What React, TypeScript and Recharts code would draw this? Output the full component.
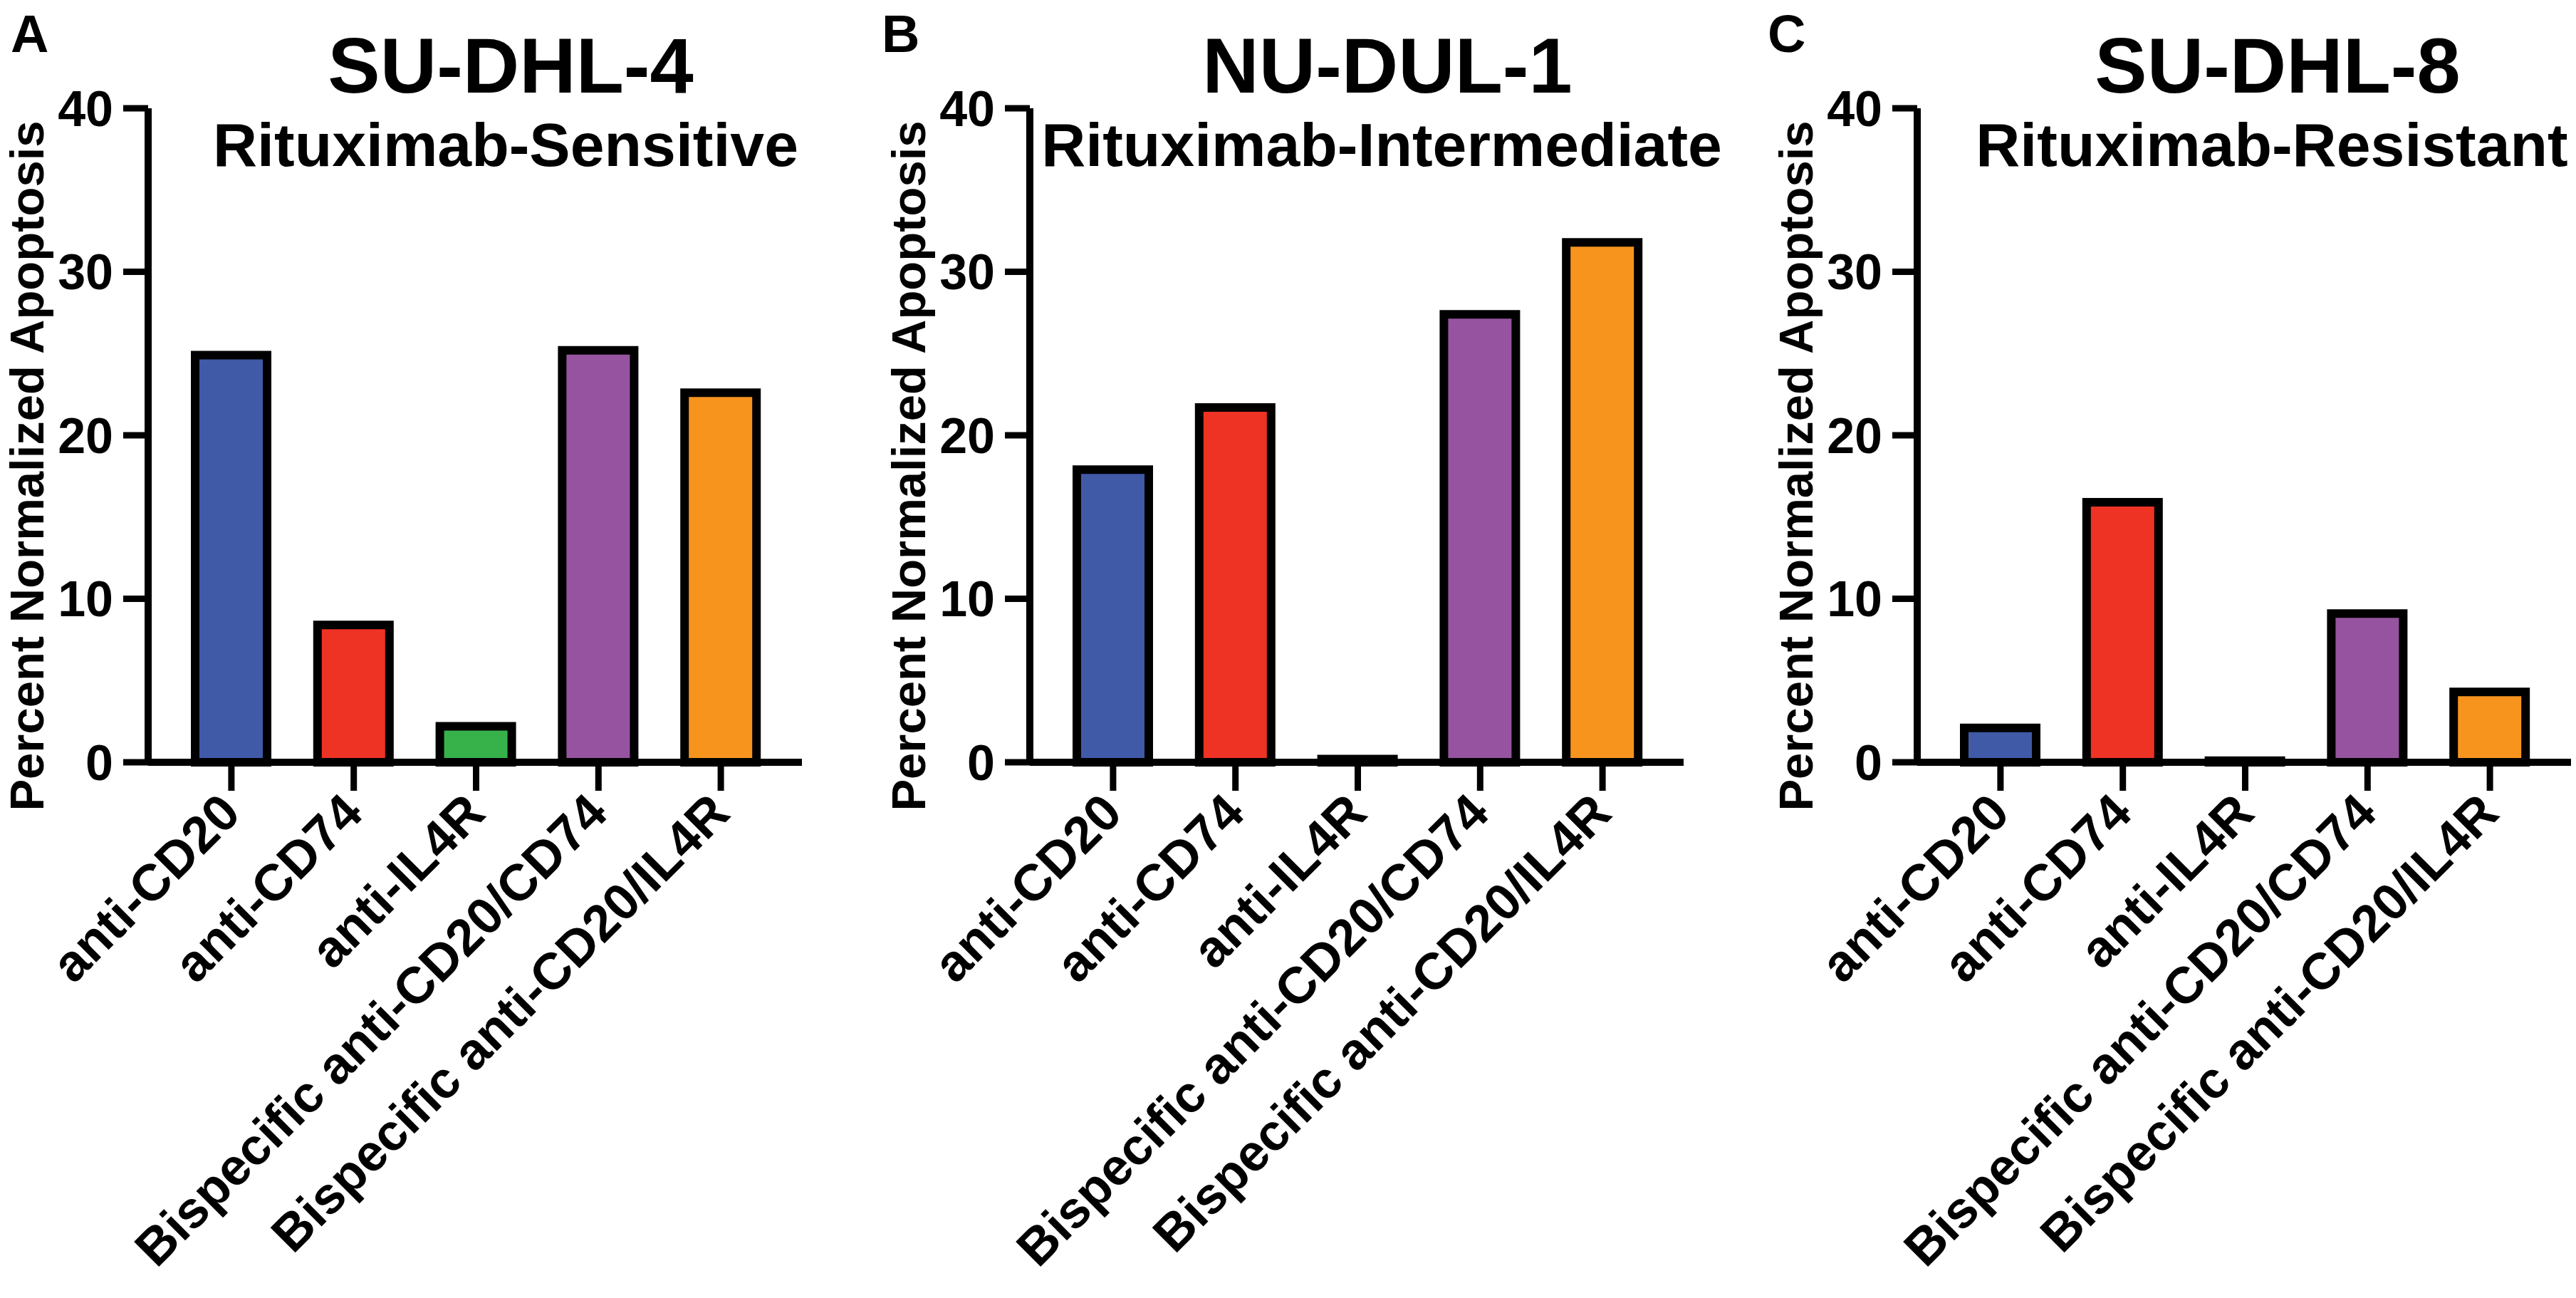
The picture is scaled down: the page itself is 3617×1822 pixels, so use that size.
import React from "react";
import { BarChart, Bar, XAxis, YAxis, Cell } from "recharts";

// ---- data ----
const categories = [
  "anti-CD20",
  "anti-CD74",
  "anti-IL4R",
  "Bispecific anti-CD20/CD74",
  "Bispecific anti-CD20/IL4R",
];
const barColors = ["#405AA8", "#EE3224", "#37B24A", "#9654A0", "#F7941E"];

const suDhl4Values = [24.9, 8.4, 2.2, 25.2, 22.6];
const nuDul1Values = [17.9, 21.7, 0.2, 27.4, 31.8];
const suDhl8Values = [2.1, 15.9, 0.1, 9.1, 4.3];

const panelLetters = ["A", "B", "C"];
const cellLines = ["SU-DHL-4", "NU-DUL-1", "SU-DHL-8"];
const sensitivity = [
  "Rituximab-Sensitive",
  "Rituximab-Intermediate",
  "Rituximab-Resistant",
];
const yTicks = [0, 10, 20, 30, 40];
const yLabel = "Percent Normalized Apoptosis";

// ---- layout ----
const FONT = "'Liberation Sans', Arial, Helvetica, sans-serif";
const W = 3617;
const H = 1822;
const CHART_W = 1133;
const PLOT_LEFT = 208; // y axis x inside each chart
const PLOT_TOP = 152; // y = 40
const PLOT_BOTTOM = 1070; // y = 0
const Y_AXIS_W = 150;
const X_AXIS_H = 100;

const panelLeft = [0, 1238, 2484];
const titleCenter = [717, 1948, 3198];
const subtitleCenter = [710, 1940, 3190];
const letterX = [15, 1238, 2482];

const panelValues = [suDhl4Values, nuDul1Values, suDhl8Values];

// eslint-disable-next-line @typescript-eslint/no-explicit-any
function AngledTick(props: any) {
  const { x, y, payload } = props;
  return (
    <g transform={`translate(${x + 16},${y + 35})`}>
      <text
        x={0}
        y={0}
        textAnchor="end"
        transform="rotate(-45)"
        fontSize={72}
        fontWeight="bold"
        fontFamily={FONT}
        fill="#000"
      >
        {payload.value}
      </text>
    </g>
  );
}

function Panel({ values }: { values: number[] }) {
  const data = categories.map((name, i) => ({ name, value: values[i] }));
  return (
    <BarChart
      width={CHART_W}
      height={H}
      data={data}
      margin={{
        top: PLOT_TOP,
        right: CHART_W - PLOT_LEFT - 918,
        left: PLOT_LEFT - Y_AXIS_W,
        bottom: H - PLOT_BOTTOM - X_AXIS_H,
      }}
    >
      <XAxis
        dataKey="name"
        interval={0}
        height={X_AXIS_H}
        padding={{ left: 31, right: 28 }}
        axisLine={{ stroke: "#000", strokeWidth: 10 }}
        tickLine={{ stroke: "#000", strokeWidth: 9 }}
        tickSize={40}
        tickMargin={0}
        tick={<AngledTick />}
      />
      <YAxis
        width={Y_AXIS_W}
        domain={[0, 40]}
        ticks={yTicks}
        interval={0}
        axisLine={{ stroke: "#000", strokeWidth: 10 }}
        tickLine={{ stroke: "#000", strokeWidth: 9 }}
        tickSize={35}
        tickMargin={14}
        tick={{ fontSize: 70, fontWeight: "bold", fill: "#000", fontFamily: FONT }}
      />
      <Bar
        dataKey="value"
        barSize={101}
        stroke="#000"
        strokeWidth={12}
        isAnimationActive={false}
      >
        {data.map((d, i) => (
          <Cell key={d.name} fill={barColors[i]} />
        ))}
      </Bar>
    </BarChart>
  );
}

export default function App() {
  return (
    <div
      style={{
        position: "absolute",
        left: 0,
        top: 0,
        width: W,
        height: H,
        background: "#fff",
        overflow: "hidden",
      }}
    >
      {panelValues.map((vals, i) => (
        <div
          key={cellLines[i]}
          style={{ position: "absolute", left: panelLeft[i], top: 0 }}
        >
          <Panel values={vals} />
        </div>
      ))}
      <svg
        width={W}
        height={H}
        style={{ position: "absolute", left: 0, top: 0, pointerEvents: "none" }}
        fontFamily={FONT}
        fontWeight="bold"
      >
        {panelLetters.map((letter, i) => {
          const lx = panelLeft[i] + PLOT_LEFT - 147;
          return (
            <g key={letter}>
              <text x={letterX[i]} y={73} fontSize={74}>
                {letter}
              </text>
              <text x={titleCenter[i]} y={130} fontSize={110} textAnchor="middle">
                {cellLines[i]}
              </text>
              <text
                x={subtitleCenter[i]}
                y={233}
                fontSize={86}
                textAnchor="middle"
              >
                {sensitivity[i]}
              </text>
              <text
                x={lx}
                y={654}
                fontSize={67}
                textAnchor="middle"
                transform={`rotate(-90, ${lx}, 654)`}
              >
                {yLabel}
              </text>
            </g>
          );
        })}
      </svg>
    </div>
  );
}
